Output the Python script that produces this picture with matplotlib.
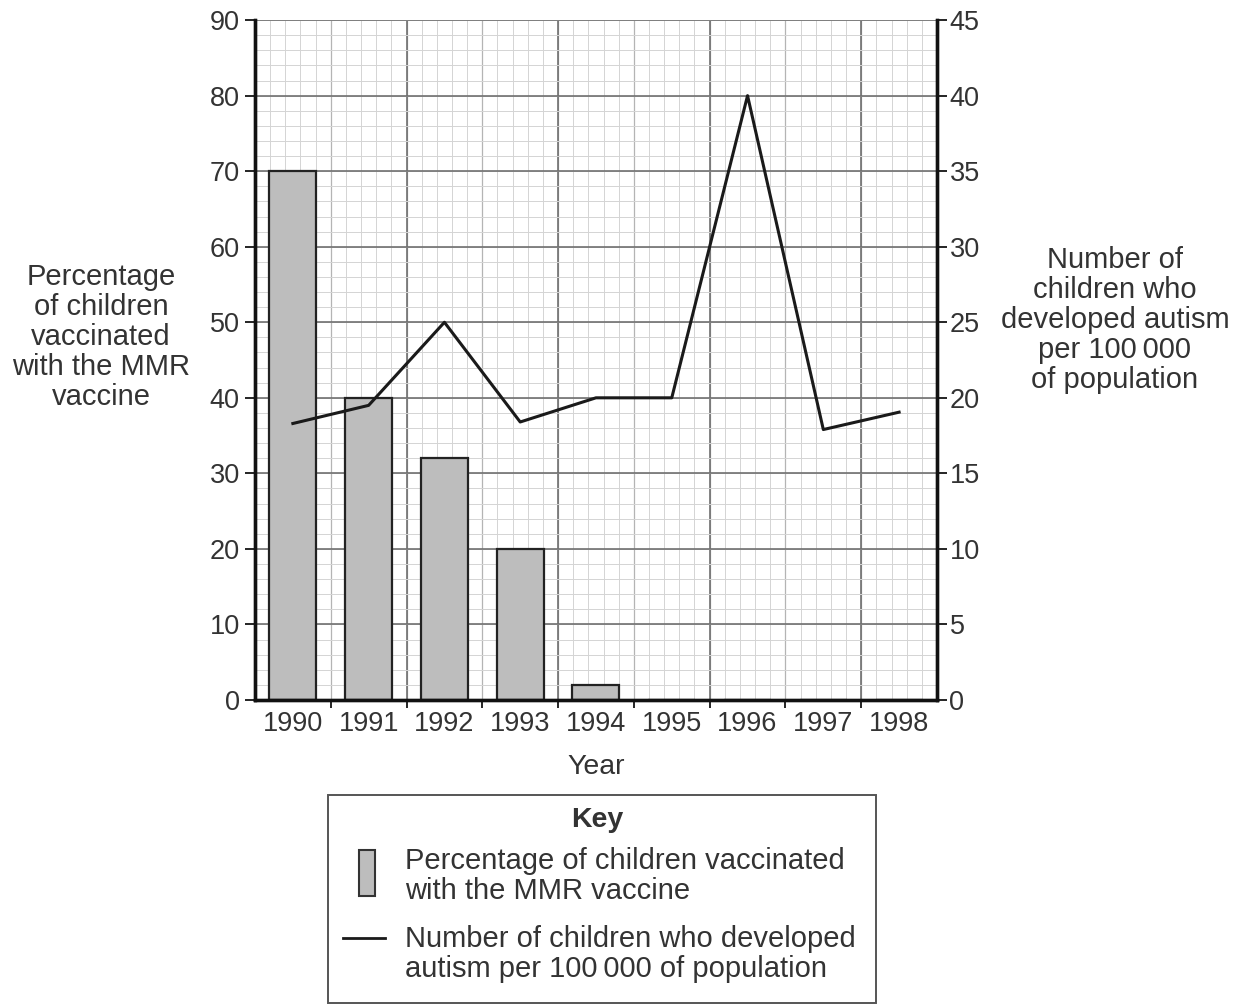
import numpy as np
import matplotlib
matplotlib.use("Agg")
import matplotlib.pyplot as plt
from matplotlib.patches import Rectangle
from matplotlib.lines import Line2D

plt.rcParams['font.family'] = ['Liberation Sans', 'DejaVu Sans']

years = ['1990', '1991', '1992', '1993', '1994', '1995', '1996', '1997', '1998']
vaccinated = [70, 40, 32, 20, 2, 0, 0, 0, 0]
autism = [18.3, 19.5, 25, 18.4, 20, 20, 40, 17.9, 19.05]

fig = plt.figure(figsize=(12.48, 10.05), dpi=100)
ax = fig.add_axes([0.2043, 0.3035, 0.5465, 0.6765])
ax.set_xlim(-0.5, 8.5)
ax.set_ylim(0, 90)

# graph paper grid
for x in np.arange(-0.5, 8.51, 0.2):
    ax.axvline(x, color='#d4d4d4', lw=0.7, zorder=0)
for x in np.arange(0.5, 8.5, 1):
    ax.axvline(x, color='#b4b4b4', lw=0.9, zorder=0)
for x in np.arange(1.5, 8.5, 2):
    ax.axvline(x, color='#707070', lw=1.2, zorder=0)
for y in np.arange(0, 90.1, 2):
    ax.axhline(y, color='#d4d4d4', lw=0.7, zorder=0)
for y in np.arange(10, 90.1, 10):
    ax.axhline(y, color='#707070', lw=1.2, zorder=0)

xpos = np.arange(len(years))
ax.bar(xpos, vaccinated, width=0.62, color='#bdbdbd', edgecolor='#222222',
       linewidth=1.6, zorder=2)

ax.set_xticks(xpos)
ax.set_xticklabels(years, fontsize=19.5, color='#333333')
ax.set_xticks(np.arange(0.5, 8, 1), minor=True)
ax.tick_params(axis='x', which='major', length=0, pad=8)
ax.tick_params(axis='x', which='minor', length=6, width=1.2, direction='out')
ax.set_yticks(np.arange(0, 91, 10))
ax.tick_params(axis='y', labelsize=19.5, labelcolor='#333333', length=7,
               width=1.2, direction='out', pad=4)
ax.set_xlabel('Year', fontsize=20.5, color='#333333', labelpad=12)

ax.spines['top'].set_visible(False)
for s in ['left', 'right', 'bottom']:
    ax.spines[s].set_linewidth(2.4)
    ax.spines[s].set_color('#111111')

ax2 = ax.twinx()
ax2.set_ylim(0, 45)
ax2.plot(xpos, autism, color='#1a1a1a', lw=2.2, zorder=3)
ax2.set_yticks(np.arange(0, 46, 5))
ax2.tick_params(axis='y', labelsize=19.5, labelcolor='#333333', length=7,
                width=1.2, direction='out', pad=2)
ax2.spines['top'].set_visible(False)
for s in ['left', 'right', 'bottom']:
    ax2.spines[s].set_linewidth(2.4)
    ax2.spines[s].set_color('#111111')

fig.text(101 / 1248, 1 - 337 / 1005,
         'Percentage\nof children\nvaccinated\nwith the MMR\nvaccine',
         ha='center', va='center', fontsize=21, color='#333333', linespacing=1.08)
fig.text(1115 / 1248, 1 - 320 / 1005,
         'Number of\nchildren who\ndeveloped autism\nper 100\u2009000\nof population',
         ha='center', va='center', fontsize=21, color='#333333', linespacing=1.08)

# key box
W, H = 1248, 1005
key = fig.add_axes([0, 0, 1, 1], facecolor='none')
key.set_xlim(0, W)
key.set_ylim(H, 0)
key.axis('off')
key.add_patch(Rectangle((328, 795), 548, 208, fill=False, edgecolor='#555555', lw=1.4))
key.text(597, 820, 'Key', ha='center', va='center', fontsize=20.5,
         fontweight='bold', color='#333333')
key.add_patch(Rectangle((359, 850), 16, 46, facecolor='#bdbdbd',
                        edgecolor='#333333', lw=1.5))
key.text(405, 876, 'Percentage of children vaccinated\nwith the MMR vaccine',
         ha='left', va='center', fontsize=21, color='#333333', linespacing=1.06)
key.add_line(Line2D([343, 385], [938, 938], color='#1a1a1a', lw=2.0))
key.text(405, 954, 'Number of children who developed\nautism per 100\u2009000 of population',
         ha='left', va='center', fontsize=21, color='#333333', linespacing=1.06)

fig.savefig('out.png', dpi=100)
